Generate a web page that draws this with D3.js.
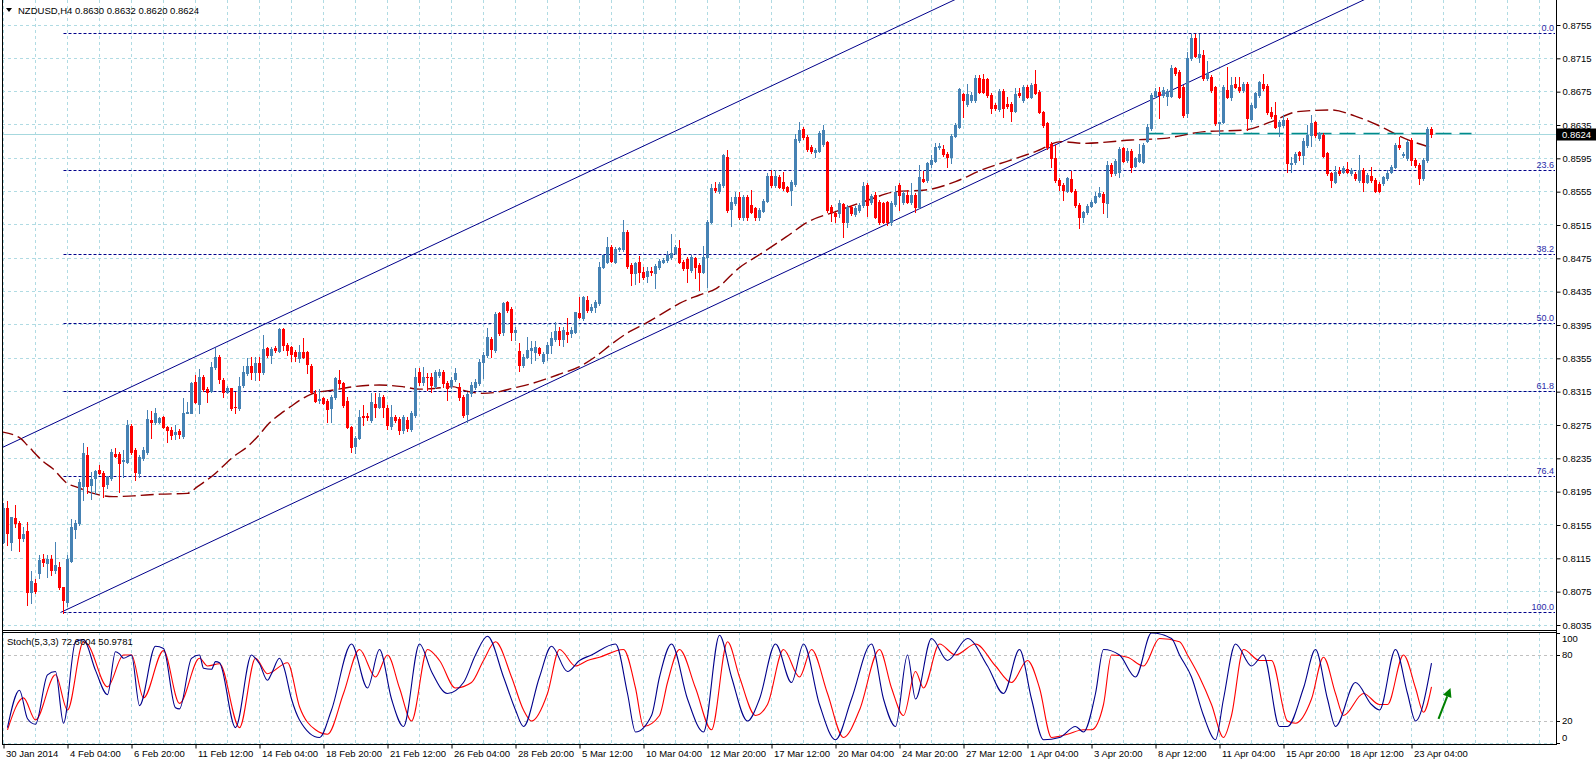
<!DOCTYPE html>
<html><head><meta charset="utf-8">
<script src="https://cdn.jsdelivr.net/npm/d3@7"></script>
<style>
html,body{margin:0;padding:0;background:#fff;overflow:hidden;}
svg{display:block;font-family:"Liberation Sans",Arial,sans-serif;}
</style></head><body>
<svg id="c" width="1596" height="762"></svg>
<script>
// ---------------- DATA ----------------
const symbolTitle = "NZDUSD,H4  0.8630 0.8632 0.8620 0.8624";
const stochTitle = "Stoch(5,3,3) 72.6604 50.9781";
const open = [
0.8135,0.8175,0.8134,0.8163,0.8158,0.8140,0.8148,0.8074,0.8086,0.8097,
0.8114,0.8109,0.8114,0.8101,0.8104,0.8080,0.8063,0.8112,0.8150,0.8157,
0.8202,0.8239,0.8203,0.8211,0.8221,0.8218,0.8204,0.8211,0.8240,0.8240,
0.8232,0.8231,0.8274,0.8245,0.8218,0.8235,0.8242,0.8281,0.8278,0.8279,
0.8284,0.8272,0.8269,0.8264,0.8268,0.8262,0.8290,0.8290,0.8327,0.8300,
0.8332,0.8318,0.8316,0.8344,0.8357,0.8329,0.8315,0.8319,0.8297,0.8295,
0.8323,0.8337,0.8346,0.8338,0.8350,0.8338,0.8367,0.8359,0.8367,0.8364,
0.8390,0.8371,0.8368,0.8363,0.8355,0.8363,0.8362,0.8346,0.8312,0.8305,
0.8307,0.8304,0.8295,0.8308,0.8329,0.8325,0.8304,0.8272,0.8250,0.8260,
0.8286,0.8286,0.8281,0.8300,0.8297,0.8309,0.8295,0.8274,0.8285,0.8282,
0.8269,0.8281,0.8270,0.8287,0.8338,0.8326,0.8333,0.8333,0.8322,0.8335,
0.8338,0.8325,0.8322,0.8330,0.8321,0.8309,0.8288,0.8313,0.8321,0.8325,
0.8351,0.8359,0.8378,0.8365,0.8409,0.8386,0.8423,0.8414,0.8386,0.8364,
0.8347,0.8357,0.8365,0.8362,0.8367,0.8352,0.8361,0.8371,0.8378,0.8388,
0.8378,0.8386,0.8385,0.8387,0.8409,0.8403,0.8425,0.8413,0.8417,0.8421,
0.8465,0.8471,0.8488,0.8471,0.8486,0.8486,0.8506,0.8467,0.8457,0.8470,
0.8459,0.8454,0.8460,0.8457,0.8465,0.8471,0.8473,0.8476,0.8482,0.8487,
0.8471,0.8474,0.8461,0.8475,0.8467,0.8459,0.8477,0.8519,0.8559,0.8556,
0.8563,0.8597,0.8534,0.8541,0.8549,0.8525,0.8549,0.8539,0.8535,0.8525,
0.8532,0.8544,0.8574,0.8563,0.8573,0.8566,0.8560,0.8557,0.8564,0.8617,
0.8630,0.8621,0.8609,0.8603,0.8604,0.8612,0.8615,0.8537,0.8529,0.8529,
0.8540,0.8519,0.8537,0.8528,0.8533,0.8539,0.8563,0.8543,0.8551,0.8543,
0.8541,0.8542,0.8519,0.8540,0.8563,0.8543,0.8551,0.8542,0.8551,0.8537,
0.8570,0.8569,0.8588,0.8592,0.8608,0.8606,0.8600,0.8596,0.8622,0.8633,
0.8672,0.8660,0.8665,0.8665,0.8691,0.8690,0.8690,0.8671,0.8659,0.8654,
0.8676,0.8660,0.8660,0.8652,0.8674,0.8665,0.8681,0.8669,0.8684,0.8675,
0.8650,0.8637,0.8612,0.8595,0.8569,0.8563,0.8556,0.8570,0.8556,0.8539,
0.8524,0.8530,0.8538,0.8543,0.8550,0.8552,0.8541,0.8587,0.8577,0.8579,
0.8607,0.8593,0.8604,0.8586,0.8592,0.8591,0.8616,0.8631,0.8670,0.8675,
0.8671,0.8670,0.8670,0.8703,0.8699,0.8681,0.8649,0.8715,0.8739,0.8717,
0.8719,0.8691,0.8693,0.8680,0.8637,0.8639,0.8677,0.8668,0.8684,0.8680,
0.8677,0.8684,0.8642,0.8657,0.8671,0.8684,0.8682,0.8650,0.8647,0.8634,
0.8635,0.8641,0.8588,0.8590,0.8602,0.8599,0.8611,0.8623,0.8638,0.8619,
0.8623,0.8601,0.8577,0.8567,0.8580,0.8579,0.8582,0.8577,0.8576,0.8569,
0.8581,0.8567,0.8574,0.8569,0.8564,0.8565,0.8571,0.8579,0.8585,0.8611,
0.8599,0.8595,0.8617,0.8593,0.8587,0.8571,0.8593,0.8630];
const high = [
0.8181,0.8184,0.8165,0.8179,0.8160,0.8152,0.8159,0.8100,0.8090,0.8119,
0.8120,0.8119,0.8119,0.8134,0.8111,0.8081,0.8119,0.8162,0.8161,0.8210,
0.8253,0.8249,0.8219,0.8221,0.8227,0.8220,0.8214,0.8246,0.8247,0.8242,
0.8245,0.8281,0.8276,0.8247,0.8239,0.8248,0.8293,0.8292,0.8295,0.8285,
0.8286,0.8274,0.8273,0.8275,0.8270,0.8307,0.8303,0.8327,0.8335,0.8342,
0.8335,0.8321,0.8351,0.8367,0.8359,0.8331,0.8322,0.8320,0.8314,0.8332,
0.8346,0.8355,0.8357,0.8357,0.8357,0.8383,0.8369,0.8369,0.8370,0.8392,
0.8392,0.8373,0.8370,0.8365,0.8371,0.8379,0.8364,0.8348,0.8317,0.8318,
0.8309,0.8306,0.8311,0.8332,0.8341,0.8326,0.8309,0.8274,0.8262,0.8293,
0.8299,0.8289,0.8313,0.8313,0.8313,0.8311,0.8299,0.8299,0.8287,0.8284,
0.8287,0.8284,0.8292,0.8343,0.8343,0.8344,0.8337,0.8337,0.8341,0.8342,
0.8341,0.8328,0.8332,0.8343,0.8325,0.8311,0.8314,0.8327,0.8330,0.8354,
0.8362,0.8391,0.8381,0.8410,0.8411,0.8423,0.8424,0.8416,0.8393,0.8373,
0.8360,0.8381,0.8376,0.8376,0.8369,0.8362,0.8375,0.8387,0.8398,0.8393,
0.8393,0.8403,0.8393,0.8411,0.8429,0.8430,0.8430,0.8420,0.8425,0.8471,
0.8480,0.8501,0.8491,0.8488,0.8489,0.8521,0.8509,0.8469,0.8471,0.8478,
0.8464,0.8464,0.8465,0.8468,0.8474,0.8475,0.8484,0.8504,0.8491,0.8497,
0.8473,0.8476,0.8479,0.8477,0.8469,0.8490,0.8521,0.8564,0.8567,0.8566,
0.8600,0.8605,0.8549,0.8555,0.8555,0.8551,0.8551,0.8557,0.8537,0.8535,
0.8546,0.8577,0.8581,0.8581,0.8575,0.8579,0.8562,0.8569,0.8624,0.8639,
0.8632,0.8623,0.8611,0.8607,0.8628,0.8635,0.8616,0.8539,0.8531,0.8545,
0.8541,0.8539,0.8539,0.8538,0.8541,0.8567,0.8565,0.8552,0.8555,0.8545,
0.8543,0.8544,0.8544,0.8562,0.8565,0.8556,0.8557,0.8565,0.8553,0.8587,
0.8580,0.8591,0.8599,0.8613,0.8613,0.8611,0.8602,0.8624,0.8637,0.8679,
0.8674,0.8684,0.8675,0.8695,0.8695,0.8696,0.8691,0.8673,0.8661,0.8678,
0.8678,0.8669,0.8662,0.8679,0.8679,0.8683,0.8683,0.8685,0.8701,0.8677,
0.8652,0.8639,0.8614,0.8611,0.8571,0.8565,0.8573,0.8580,0.8558,0.8541,
0.8532,0.8540,0.8545,0.8555,0.8561,0.8554,0.8592,0.8589,0.8594,0.8608,
0.8609,0.8607,0.8606,0.8597,0.8612,0.8613,0.8636,0.8673,0.8679,0.8680,
0.8680,0.8678,0.8707,0.8704,0.8701,0.8683,0.8723,0.8744,0.8744,0.8744,
0.8725,0.8712,0.8695,0.8682,0.8639,0.8683,0.8705,0.8693,0.8693,0.8693,
0.8686,0.8686,0.8661,0.8675,0.8688,0.8696,0.8684,0.8657,0.8663,0.8641,
0.8647,0.8643,0.8597,0.8602,0.8604,0.8619,0.8635,0.8647,0.8640,0.8626,
0.8625,0.8603,0.8579,0.8586,0.8585,0.8586,0.8591,0.8583,0.8578,0.8599,
0.8583,0.8577,0.8585,0.8571,0.8566,0.8574,0.8581,0.8587,0.8613,0.8620,
0.8602,0.8617,0.8619,0.8595,0.8589,0.8595,0.8633,0.8632];
const low = [
0.8133,0.8131,0.8125,0.8152,0.8124,0.8136,0.8059,0.8061,0.8073,0.8091,
0.8106,0.8092,0.8095,0.8098,0.8078,0.8049,0.8058,0.8110,0.8139,0.8155,
0.8185,0.8193,0.8186,0.8192,0.8216,0.8189,0.8200,0.8209,0.8236,0.8195,
0.8213,0.8229,0.8240,0.8209,0.8213,0.8233,0.8240,0.8260,0.8276,0.8277,
0.8271,0.8254,0.8258,0.8258,0.8259,0.8260,0.8289,0.8289,0.8301,0.8289,
0.8316,0.8302,0.8314,0.8342,0.8325,0.8308,0.8313,0.8293,0.8290,0.8293,
0.8321,0.8335,0.8330,0.8329,0.8329,0.8336,0.8356,0.8350,0.8363,0.8362,
0.8365,0.8359,0.8352,0.8352,0.8351,0.8355,0.8337,0.8313,0.8302,0.8301,
0.8300,0.8279,0.8278,0.8306,0.8319,0.8297,0.8271,0.8243,0.8241,0.8258,
0.8275,0.8281,0.8279,0.8285,0.8295,0.8285,0.8270,0.8270,0.8278,0.8264,
0.8265,0.8268,0.8268,0.8285,0.8323,0.8323,0.8317,0.8315,0.8320,0.8333,
0.8321,0.8305,0.8320,0.8328,0.8305,0.8285,0.8278,0.8310,0.8318,0.8323,
0.8331,0.8357,0.8357,0.8362,0.8383,0.8383,0.8411,0.8377,0.8377,0.8340,
0.8345,0.8355,0.8350,0.8353,0.8359,0.8349,0.8353,0.8361,0.8376,0.8371,
0.8370,0.8375,0.8381,0.8385,0.8403,0.8401,0.8411,0.8410,0.8410,0.8419,
0.8463,0.8469,0.8470,0.8469,0.8484,0.8484,0.8463,0.8443,0.8444,0.8447,
0.8450,0.8447,0.8455,0.8439,0.8462,0.8469,0.8471,0.8474,0.8480,0.8469,
0.8461,0.8446,0.8459,0.8451,0.8437,0.8457,0.8441,0.8517,0.8555,0.8553,
0.8561,0.8531,0.8514,0.8539,0.8522,0.8521,0.8521,0.8529,0.8521,0.8521,
0.8530,0.8542,0.8561,0.8560,0.8559,0.8557,0.8554,0.8539,0.8562,0.8615,
0.8618,0.8604,0.8601,0.8596,0.8602,0.8610,0.8531,0.8520,0.8519,0.8525,
0.8500,0.8513,0.8527,0.8526,0.8531,0.8537,0.8526,0.8540,0.8523,0.8516,
0.8517,0.8515,0.8515,0.8538,0.8533,0.8540,0.8541,0.8540,0.8531,0.8535,
0.8566,0.8567,0.8585,0.8590,0.8606,0.8598,0.8585,0.8589,0.8620,0.8631,
0.8645,0.8658,0.8663,0.8663,0.8673,0.8673,0.8669,0.8649,0.8653,0.8652,
0.8645,0.8655,0.8640,0.8650,0.8669,0.8663,0.8667,0.8667,0.8672,0.8649,
0.8633,0.8606,0.8585,0.8567,0.8557,0.8545,0.8554,0.8554,0.8537,0.8512,
0.8518,0.8528,0.8536,0.8541,0.8548,0.8529,0.8525,0.8574,0.8575,0.8573,
0.8590,0.8591,0.8578,0.8584,0.8590,0.8589,0.8614,0.8629,0.8668,0.8644,
0.8669,0.8659,0.8668,0.8695,0.8667,0.8645,0.8645,0.8713,0.8716,0.8711,
0.8689,0.8689,0.8675,0.8635,0.8623,0.8637,0.8667,0.8665,0.8679,0.8675,
0.8675,0.8629,0.8640,0.8655,0.8669,0.8677,0.8648,0.8644,0.8631,0.8622,
0.8633,0.8579,0.8579,0.8588,0.8593,0.8588,0.8609,0.8610,0.8621,0.8617,
0.8596,0.8575,0.8561,0.8565,0.8575,0.8577,0.8577,0.8575,0.8569,0.8567,
0.8556,0.8565,0.8567,0.8554,0.8554,0.8563,0.8569,0.8577,0.8583,0.8606,
0.8597,0.8593,0.8587,0.8585,0.8564,0.8569,0.8590,0.8620];
const close = [
0.8175,0.8145,0.8164,0.8157,0.8140,0.8144,0.8075,0.8088,0.8076,0.8113,
0.8110,0.8114,0.8101,0.8107,0.8080,0.8065,0.8114,0.8152,0.8158,0.8207,
0.8241,0.8202,0.8210,0.8220,0.8218,0.8202,0.8212,0.8242,0.8238,0.8230,
0.8233,0.8275,0.8242,0.8219,0.8237,0.8245,0.8282,0.8279,0.8290,0.8283,
0.8273,0.8269,0.8263,0.8267,0.8264,0.8289,0.8291,0.8325,0.8303,0.8332,
0.8318,0.8315,0.8345,0.8357,0.8330,0.8315,0.8320,0.8295,0.8296,0.8322,
0.8339,0.8346,0.8338,0.8350,0.8338,0.8366,0.8359,0.8366,0.8365,0.8390,
0.8371,0.8365,0.8360,0.8358,0.8363,0.8357,0.8348,0.8315,0.8304,0.8306,
0.8301,0.8294,0.8309,0.8331,0.8325,0.8299,0.8273,0.8249,0.8260,0.8285,
0.8284,0.8284,0.8302,0.8297,0.8309,0.8296,0.8275,0.8284,0.8281,0.8269,
0.8284,0.8271,0.8289,0.8333,0.8326,0.8333,0.8332,0.8323,0.8338,0.8339,
0.8325,0.8319,0.8329,0.8337,0.8309,0.8287,0.8312,0.8323,0.8327,0.8351,
0.8359,0.8381,0.8366,0.8408,0.8385,0.8422,0.8413,0.8386,0.8389,0.8347,
0.8357,0.8365,0.8367,0.8368,0.8361,0.8360,0.8371,0.8379,0.8388,0.8378,
0.8389,0.8384,0.8389,0.8410,0.8404,0.8429,0.8413,0.8417,0.8423,0.8465,
0.8479,0.8489,0.8472,0.8486,0.8487,0.8506,0.8466,0.8457,0.8469,0.8458,
0.8453,0.8460,0.8458,0.8466,0.8472,0.8473,0.8479,0.8482,0.8489,0.8471,
0.8463,0.8463,0.8477,0.8465,0.8459,0.8477,0.8519,0.8559,0.8557,0.8564,
0.8599,0.8533,0.8543,0.8549,0.8524,0.8549,0.8525,0.8531,0.8524,0.8533,
0.8544,0.8574,0.8563,0.8574,0.8561,0.8559,0.8556,0.8566,0.8618,0.8629,
0.8620,0.8606,0.8604,0.8605,0.8625,0.8629,0.8533,0.8531,0.8526,0.8541,
0.8519,0.8537,0.8529,0.8535,0.8539,0.8562,0.8539,0.8550,0.8525,0.8519,
0.8519,0.8519,0.8541,0.8555,0.8551,0.8553,0.8543,0.8551,0.8537,0.8572,
0.8568,0.8589,0.8593,0.8609,0.8610,0.8600,0.8597,0.8622,0.8635,0.8678,
0.8665,0.8672,0.8671,0.8691,0.8675,0.8675,0.8671,0.8655,0.8655,0.8676,
0.8655,0.8658,0.8652,0.8672,0.8671,0.8681,0.8669,0.8683,0.8674,0.8651,
0.8635,0.8608,0.8595,0.8569,0.8563,0.8557,0.8571,0.8556,0.8539,0.8525,
0.8530,0.8538,0.8543,0.8550,0.8553,0.8542,0.8587,0.8577,0.8592,0.8606,
0.8592,0.8604,0.8585,0.8595,0.8600,0.8611,0.8632,0.8671,0.8676,0.8671,
0.8677,0.8676,0.8703,0.8697,0.8669,0.8647,0.8715,0.8739,0.8718,0.8720,
0.8691,0.8697,0.8677,0.8637,0.8639,0.8681,0.8669,0.8683,0.8681,0.8677,
0.8684,0.8644,0.8659,0.8673,0.8686,0.8679,0.8650,0.8646,0.8633,0.8639,
0.8641,0.8589,0.8589,0.8600,0.8599,0.8616,0.8623,0.8637,0.8623,0.8625,
0.8598,0.8577,0.8569,0.8579,0.8577,0.8583,0.8579,0.8581,0.8571,0.8581,
0.8567,0.8575,0.8569,0.8556,0.8556,0.8572,0.8577,0.8585,0.8611,0.8608,
0.8600,0.8615,0.8593,0.8587,0.8571,0.8593,0.8630,0.8624];

// moving average (bar index, price)
const maIdx = [-0.75,4.25,5.9,10,12.2,16.25,18,22.5,25,27.5,32.5,39.25,46,48.5,52.5,57.5,61,64.25,66,70,71.75,76,77.5,82.5,87.5,94,99.75,104,108,112.25,115.5,119.75,124,127.25,132.25,135.5,139,144,148,152.25,156.5,160.5,165.5,169,174,178.25,183.75,189.5,195.75,201.25,208,216.25,223,230.5,238,244.5,251.25,258,264.5,270.25,282,290.25,300.25,310.25,317,323.5,332,337.75,343.5,350.25,357.5];
const maVal = [0.8267,0.8259,0.8251,0.8231,0.8223,0.8204,0.8201,0.8193,0.8190,0.8189,0.8190,0.8192,0.8193,0.8201,0.8215,0.8237,0.8249,0.8265,0.8275,0.8291,0.8297,0.8310,0.8313,0.8317,0.8321,0.8323,0.8321,0.8318,0.8319,0.8321,0.8316,0.8313,0.8315,0.8319,0.8325,0.8330,0.8336,0.8345,0.8357,0.8373,0.8387,0.8397,0.8411,0.8421,0.8431,0.8439,0.8463,0.8481,0.8501,0.8519,0.8531,0.8545,0.8555,0.8557,0.8567,0.8581,0.8592,0.8603,0.8615,0.8613,0.8617,0.8619,0.8627,0.8629,0.8639,0.8651,0.8653,0.8646,0.8635,0.8619,0.8607];

// stochastic points (bar index, value)
const kIdx = [1,4,6,8,11,13,15,18,20,23,26,28,29,30,32,34,38,40,43,44,47,49,50,52,53,54,58,62,63,64,66,67,69,70,72,74,79,82,87,91,94,97,100,104,107,111,115,118,121,125,128,130,134,137,141,144,147,153,156,158,162,164,167,171,175,179,182,186,189,193,197,200,204,208,212,217,220,223,226,228,232,236,241,246,250,254,257,260,264,268,270,273,275,279,283,287,292,294,297,300,303,305,308,312,315,319,321,325,328,331,333,338,342,344,348,351,353,357];
const kVal = [14,48,22,17,62,65,18,92,94,66,44,83,81,77,80,34,88,86,32,31,77,80,68,67,74,73,14,80,77,72,57,63,77,70,40,21,5,30,90,50,85,40,15,90,65,45,55,80,97,60,30,15,60,88,65,75,80,90,45,10,25,60,90,40,10,98,60,20,40,90,55,90,35,3,40,90,40,15,80,40,95,75,95,70,45,85,40,3,5,15,10,45,85,80,60,100,95,80,60,25,3,40,90,70,80,15,15,50,85,40,15,55,35,30,85,45,20,72.66];
const dIdx = [1,5,8,13,16,20,21,26,30,32,35,40,44,49,51,54,59,63,66,71,74,78,81,85,89,93,96,99,102,106,109,113,117,120,123,127,130,132,136,139,143,146,149,155,158,160,164,166,169,173,177,181,184,188,191,195,199,202,206,210,214,219,222,225,228,230,234,238,243,248,252,256,259,262,266,270,272,275,277,281,285,289,294,296,299,302,305,307,310,314,317,321,323,327,330,333,335,340,344,346,350,353,355,357];
const dVal = [12,41,21,62,30,92,90,51,80,80,41,84,36,77,70,72,14,77,63,73,33,12,8,45,85,60,80,50,20,85,75,50,55,75,92,60,30,20,45,85,70,75,78,85,50,15,25,55,85,50,12,92,60,25,35,85,60,85,45,5,30,85,50,25,65,50,90,80,90,70,55,75,50,5,8,12,12,35,80,78,70,95,92,80,60,35,5,25,85,75,75,20,18,40,78,45,25,45,35,35,80,50,28,50.98];

const priceTicks = [0.8755,0.8715,0.8675,0.8635,0.8595,0.8555,0.8515,0.8475,0.8435,0.8395,0.8355,0.8315,0.8275,0.8235,0.8195,0.8155,0.8115,0.8075,0.8035];
const timeIdx = [0,16,32,48,64,80,96,112,128,144,160,176,192,208,224,240,256,272,288,304,320,336,352];
const timeText = ["30 Jan 2014","4 Feb 04:00","6 Feb 20:00","11 Feb 12:00","14 Feb 04:00","18 Feb 20:00","21 Feb 12:00","26 Feb 04:00","28 Feb 20:00","5 Mar 12:00","10 Mar 04:00","12 Mar 20:00","17 Mar 12:00","20 Mar 04:00","24 Mar 20:00","27 Mar 12:00","1 Apr 04:00","3 Apr 20:00","8 Apr 12:00","11 Apr 04:00","15 Apr 20:00","18 Apr 12:00","23 Apr 04:00"];
const stochTicks = [100,80,20,0];
const stochLevels = [80,20];

const fibLevels = [0,23.6,38.2,50,61.8,76.4,100];
const fibText = ["0.0","23.6","38.2","50.0","61.8","76.4","100.0"];
const fibHigh = 0.87445, fibLow = 0.80495, fibStartIdx = 15;
const lowerChannel = [[14.25,0.8050],[300,0.86947]];
const upperChannel = [[-0.75,0.8247],[200,0.87000]];
const tealLine = [[286,0.8625],[367,0.8625]];
const bid = 0.8624;
const arrow = [[358.75,22],[361.75,50]];

// ---------------- LAYOUT ----------------
const svg = d3.select("#c");
const L = 2, R = 1556, mainTop = 0, mainBot = 630, stTop = 632, stBot = 744;
const nBars = close.length;
const x = d3.scaleLinear().domain([0, nBars - 1]).range([3.5, 3.5 + 4 * (nBars - 1)]);
const y = d3.scaleLinear().domain([0.8035, 0.8755]).range([625, 25]);
const ys = d3.scaleLinear().domain([0, 100]).range([743, 633]);
const snap = v => Math.round(v - 0.5) + 0.5;

const GRID = "#b0dbe3", NAVY = "#00008b";

const defs = svg.append("defs");
defs.append("clipPath").attr("id","cm").append("rect").attr("x",L+1).attr("y",mainTop).attr("width",R-L-1).attr("height",mainBot-mainTop);
defs.append("clipPath").attr("id","cs").append("rect").attr("x",L+1).attr("y",stTop+1).attr("width",R-L-1).attr("height",stBot-stTop-1);

const gm = svg.append("g").attr("clip-path","url(#cm)");
const gs = svg.append("g").attr("clip-path","url(#cs)");

// vertical grid
const vgrid = d3.range(0, 400, 8).map(i => x(i)).filter(v => v < R);
[[gm,mainTop,mainBot],[gs,stTop,stBot]].forEach(([g,t,b]) => {
  g.selectAll(null).data(vgrid).join("line")
    .attr("x1",d=>snap(d)).attr("x2",d=>snap(d)).attr("y1",t).attr("y2",b)
    .attr("stroke",GRID).attr("stroke-dasharray","3,3");
});
// horizontal grid
gm.selectAll(null).data(priceTicks).join("line")
  .attr("x1",L).attr("x2",R).attr("y1",d=>snap(y(d))).attr("y2",d=>snap(y(d)))
  .attr("stroke",GRID).attr("stroke-dasharray","3,3");
gs.append("line").attr("x1",L).attr("x2",R).attr("y1",snap(ys(0))).attr("y2",snap(ys(0)))
  .attr("stroke",GRID).attr("stroke-dasharray","3,3");
gs.selectAll(null).data(stochLevels).join("line")
  .attr("x1",L).attr("x2",R).attr("y1",d=>snap(ys(d))).attr("y2",d=>snap(ys(d)))
  .attr("stroke","#c0c0c0").attr("stroke-dasharray","3,3");

// bid line
gm.append("line").attr("x1",L).attr("x2",R).attr("y1",snap(y(bid))).attr("y2",snap(y(bid)))
  .attr("stroke","#a6d8de").attr("stroke-width",1);

// fibonacci levels
const fibPrice = l => fibHigh - (fibHigh - fibLow) * l / 100;
const fx0 = snap(x(fibStartIdx));
gm.selectAll(null).data(fibLevels).join("line")
  .attr("x1",fx0).attr("x2",R-1).attr("y1",d=>snap(y(fibPrice(d)))).attr("y2",d=>snap(y(fibPrice(d))))
  .attr("stroke",NAVY).attr("stroke-dasharray","3,2");
gm.selectAll(null).data(fibLevels).join("text")
  .attr("x",R-2).attr("y",d=>snap(y(fibPrice(d)))-2.5).attr("text-anchor","end")
  .attr("font-size",9).attr("fill","#2a2aa8").text((d,i)=>fibText[i]);

// channel lines (extend using the two anchor points)
function ext(p, i0, i1) {
  const s = (p[1][1]-p[0][1])/(p[1][0]-p[0][0]);
  return [[i0, p[0][1] + s*(i0-p[0][0])],[i1, p[0][1] + s*(i1-p[0][0])]];
}
[[lowerChannel, 14.25],[upperChannel, -0.75]].forEach(([p, st]) => {
  const e = ext(p, st, 420);
  gm.append("line").attr("x1",x(e[0][0])).attr("y1",y(e[0][1])).attr("x2",x(e[1][0])).attr("y2",y(e[1][1]))
    .attr("stroke",NAVY).attr("stroke-width",1);
});

// MA
const maPts = maIdx.map((d,i)=>[d, maVal[i]]);
gm.append("path").attr("d", d3.line().curve(d3.curveMonotoneX).x(d=>x(d[0])).y(d=>y(d[1]))(maPts))
  .attr("fill","none").attr("stroke","#8b0000").attr("stroke-width",1.4).attr("stroke-dasharray","13,5");

// teal dashed line
gm.append("line").attr("x1",x(tealLine[0][0])).attr("x2",x(tealLine[1][0]))
  .attr("y1",snap(y(tealLine[0][1]))).attr("y2",snap(y(tealLine[1][1])))
  .attr("stroke","#008b8b").attr("stroke-width",1.6).attr("stroke-dasharray","16,8");

// candles
const bars = d3.range(nBars);
const cg = gm.append("g");
bars.forEach(i => {
  const o = open[i], c = close[i], h = high[i], l = low[i];
  const col = c >= o ? "#4682b4" : "#ff0000";
  const cx = x(i);
  cg.append("line").attr("x1",cx).attr("x2",cx).attr("y1",Math.round(y(h))).attr("y2",Math.round(y(l))+1)
    .attr("stroke",col).attr("stroke-width",1);
  const t = Math.round(y(Math.max(o,c))), b = Math.round(y(Math.min(o,c)));
  cg.append("rect").attr("x",cx-1.5).attr("width",3).attr("y",t).attr("height",Math.max(1,b-t+1)).attr("fill",col);
});

// stochastic
const kPts = kIdx.map((d,i)=>[d,kVal[i]]), dPts = dIdx.map((d,i)=>[d,dVal[i]]);
const sl = d3.line().curve(d3.curveMonotoneX).x(d=>x(d[0])).y(d=>ys(d[1]));
gs.append("path").attr("d", sl(dPts)).attr("fill","none").attr("stroke","#ff0000").attr("stroke-width",1.1);
gs.append("path").attr("d", sl(kPts)).attr("fill","none").attr("stroke","#00008b").attr("stroke-width",1.1);

// arrow
const ax0 = x(arrow[0][0]), ay0 = ys(arrow[0][1]), ax1 = x(arrow[1][0]), ay1 = ys(arrow[1][1]);
const ang = Math.atan2(ay1-ay0, ax1-ax0);
const hl = 9, hw = 4.5;
const bx = ax1 - hl*Math.cos(ang), by = ay1 - hl*Math.sin(ang);
gs.append("line").attr("x1",ax0).attr("y1",ay0).attr("x2",bx).attr("y2",by).attr("stroke","#008000").attr("stroke-width",2);
gs.append("path").attr("d",`M${ax1},${ay1}L${bx+hw*Math.sin(ang)},${by-hw*Math.cos(ang)}L${bx-hw*Math.sin(ang)},${by+hw*Math.cos(ang)}Z`).attr("fill","#008000");

// frames
const fr = svg.append("g").attr("stroke","#000").attr("stroke-width",1);
fr.append("line").attr("x1",L+0.5).attr("x2",L+0.5).attr("y1",0).attr("y2",stBot+0.5);
fr.append("line").attr("x1",R+0.5).attr("x2",R+0.5).attr("y1",0).attr("y2",stBot+0.5);
fr.append("line").attr("x1",L).attr("x2",R+1).attr("y1",mainBot+0.5).attr("y2",mainBot+0.5);
fr.append("line").attr("x1",L).attr("x2",R+1).attr("y1",stTop+0.5).attr("y2",stTop+0.5);
fr.append("line").attr("x1",L).attr("x2",R+1).attr("y1",stBot+0.5).attr("y2",stBot+0.5);

// price axis
const pa = svg.append("g").attr("transform",`translate(${R+0.5},0)`)
  .call(d3.axisRight(y).tickValues(priceTicks).tickSize(4).tickPadding(2).tickFormat(d3.format(".4f")));
pa.select(".domain").remove();
pa.selectAll("text").attr("font-size",9.5).attr("font-family","Liberation Sans, Arial, sans-serif").attr("fill","#000");
pa.selectAll("line").attr("stroke","#000");

// bid label
const by0 = snap(y(bid));
svg.append("rect").attr("x",R+1).attr("y",by0-6).attr("width",40).attr("height",12).attr("fill","#000");
svg.append("text").attr("x",R+6).attr("y",by0).attr("dy","0.35em").attr("font-size",9.5).attr("fill","#fff").text(d3.format(".4f")(bid));

// stoch axis labels
const stochLabelY = {100: ys(100)+6, 80: ys(80), 20: ys(20), 0: ys(0)-5};
svg.selectAll(null).data(stochTicks).join("text")
  .attr("x",R+6).attr("y",d=>stochLabelY[d]).attr("dy","0.35em").attr("font-size",9.5).text(d=>d);
svg.selectAll(null).data(stochTicks).join("line")
  .attr("x1",R+1).attr("x2",R+4).attr("y1",d=>snap(ys(d))).attr("y2",d=>snap(ys(d))).attr("stroke","#000");

// time axis
const ta = svg.append("g").attr("transform",`translate(0,${stBot+0.5})`)
  .call(d3.axisBottom(x).tickValues(timeIdx).tickSize(4).tickFormat((d,i)=>timeText[i]));
ta.select(".domain").remove();
ta.selectAll("line").attr("stroke","#000");
ta.selectAll("text").attr("text-anchor","start").attr("dx",2).attr("dy","0.6em").attr("font-size",9.5)
  .attr("font-family","Liberation Sans, Arial, sans-serif").attr("fill","#000");

// titles
svg.append("path").attr("d","M6,8L12,8L9,12Z").attr("fill","#000");
svg.append("text").attr("x",18).attr("y",11).attr("dy","0.35em").attr("font-size",9.5).text(symbolTitle);
svg.append("text").attr("x",7).attr("y",642).attr("dy","0.35em").attr("font-size",9.5).text(stochTitle);
</script>
</body></html>
